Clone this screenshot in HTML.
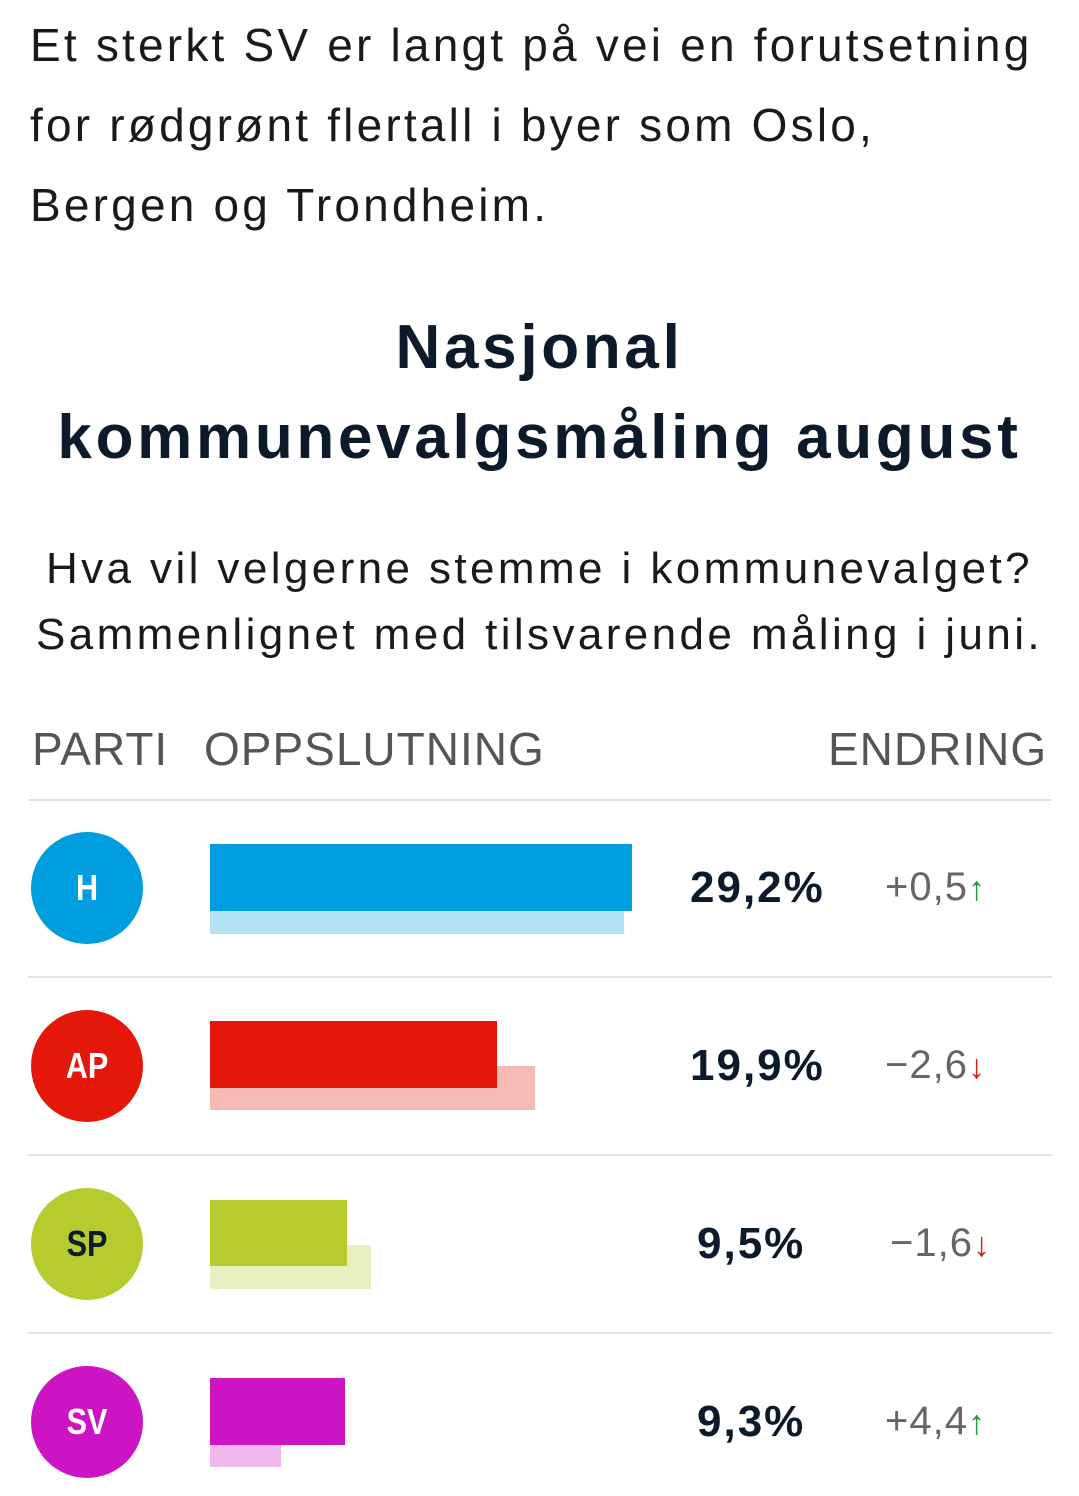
<!DOCTYPE html>
<html><head><meta charset="utf-8"><style>
body{margin:0;width:1079px;height:1496px;background:#fff;font-family:"Liberation Sans",sans-serif;color:#0d1a2b;position:relative;overflow:hidden}
.a{position:absolute;white-space:nowrap}
.intro{left:30px;font-size:46px;letter-spacing:3.2px;color:#1a1a1a}
.title{left:0;width:1079px;text-align:center;font-size:62px;font-weight:bold;letter-spacing:3.7px;color:#0d1a2b}
.sub{left:0;width:1079px;text-align:center;font-size:44px;letter-spacing:3.4px;color:#1a1a1a}
.hd{top:722px;font-size:46px;color:#555;letter-spacing:1px}
.hr{position:absolute;left:28px;width:1024px;height:2px;background:#e2e2e2}
.c{position:absolute;left:31px;width:112px;height:112px;border-radius:50%;color:#fff;font-size:36px;font-weight:bold;text-align:center;line-height:112px}
.c span{display:inline-block;transform:scaleX(.85)}
.b{position:absolute;left:210px}
.p{position:absolute;left:690px;font-size:44px;font-weight:bold;line-height:50px;letter-spacing:2px}
.d{position:absolute;left:885px;font-size:40px;color:#666;line-height:50px;letter-spacing:1px}
.up{color:#1e9a3c;font-size:34px}.dn{color:#d0200e;font-size:34px}
</style></head><body>
<div class="a intro" style="top:18px">Et sterkt SV er langt på vei en forutsetning</div>
<div class="a intro" style="top:98px">for rødgrønt flertall i byer som Oslo,</div>
<div class="a intro" style="top:178px">Bergen og Trondheim.</div>
<div class="a title" style="top:312px">Nasjonal</div>
<div class="a title" style="top:402px">kommunevalgsmåling august</div>
<div class="a sub" style="top:544px">Hva vil velgerne stemme i kommunevalget?</div>
<div class="a sub" style="top:610px">Sammenlignet med tilsvarende måling i juni.</div>
<div class="a hd" style="left:32px">PARTI</div>
<div class="a hd" style="left:204px">OPPSLUTNING</div>
<div class="a hd" style="left:828px">ENDRING</div>
<div class="hr" style="top:799px"></div>
<div class="hr" style="top:976px"></div>
<div class="hr" style="top:1154px"></div>
<div class="hr" style="top:1332px"></div>

<div class="c" style="top:832px;background:#009ddf"><span>H</span></div>
<div class="b" style="top:888px;width:414px;height:46px;background:#b3e2f5"></div>
<div class="b" style="top:844px;width:422px;height:67px;background:#009ddf"></div>
<div class="p" style="top:863px">29,2%</div>
<div class="d" style="top:862px">+0,5<span class="up">↑</span></div>

<div class="c" style="top:1010px;background:#e3170a"><span>AP</span></div>
<div class="b" style="top:1066px;width:325px;height:44px;background:#f7bab5"></div>
<div class="b" style="top:1021px;width:287px;height:67px;background:#e3170a"></div>
<div class="p" style="top:1041px">19,9%</div>
<div class="d" style="top:1040px">−2,6<span class="dn">↓</span></div>

<div class="c" style="top:1188px;background:#b5cb2e;color:#0d1a2b"><span>SP</span></div>
<div class="b" style="top:1245px;width:161px;height:44px;background:#e8f0c0"></div>
<div class="b" style="top:1200px;width:137px;height:66px;background:#b5cb2e"></div>
<div class="p" style="top:1219px;left:697px">9,5%</div>
<div class="d" style="top:1218px;left:890px">−1,6<span class="dn">↓</span></div>

<div class="c" style="top:1366px;background:#cc14c4"><span>SV</span></div>
<div class="b" style="top:1422px;width:71px;height:45px;background:#f0b8ed"></div>
<div class="b" style="top:1378px;width:135px;height:67px;background:#cc14c4"></div>
<div class="p" style="top:1397px;left:697px">9,3%</div>
<div class="d" style="top:1396px">+4,4<span class="up">↑</span></div>
</body></html>
